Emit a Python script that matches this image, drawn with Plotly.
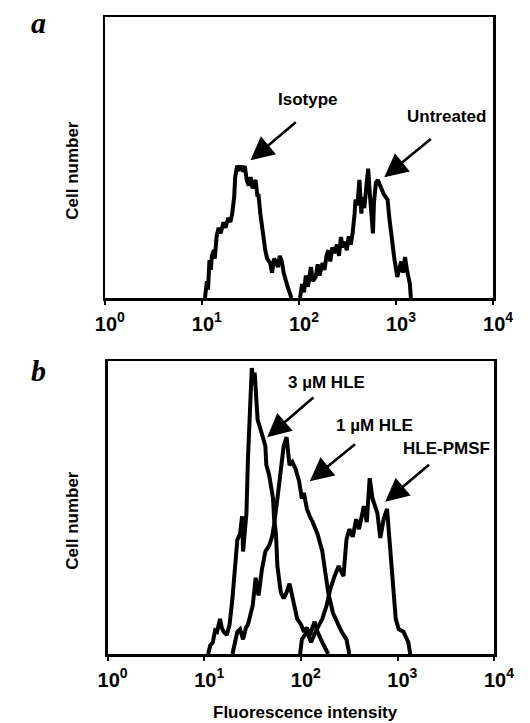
import math
import plotly.graph_objects as go

# ---------------- data (fluorescence intensity, relative cell number %) ----------------
isotype_x = [10.7, 11.2, 11.5, 11.9, 12.3, 12.6, 13.2, 13.5, 14.1, 14.8, 15.5, 16.6, 17.4, 18.6,
             19.5, 20.4, 21.4, 21.9, 22.9, 24.0, 25.1, 26.3, 27.5, 28.8, 30.2, 31.6, 33.1, 35.5,
             37.2, 38.0, 39.8, 41.7, 42.7, 44.7, 46.8, 50.1, 52.5, 55.0, 57.5, 60.3, 63.1, 66.1,
             69.2, 70.8, 75.9, 83.2]
isotype_y = [0, 6, 3, 13.5, 10, 15, 17, 14, 22, 25, 23, 27, 25, 28.5,
             27, 30, 36, 43, 47, 46, 47, 45, 47, 42, 40, 43, 39, 42,
             36, 37, 30, 25, 21, 17, 14, 12.5, 9, 14, 13, 11, 15, 13,
             9, 7.5, 4, 0]

untreated_x = [102, 107, 112, 117, 123, 132, 138, 148, 155, 162, 174, 182, 191, 200, 209, 219,
               229, 245, 257, 269, 282, 295, 309, 324, 339, 355, 372, 380, 398, 417, 437, 447,
               468, 490, 513, 537, 550, 575, 589, 617, 646, 661, 708, 741, 776, 813, 851, 912,
               955, 1023, 1072, 1122, 1175, 1230, 1288, 1349, 1380, 1413]
untreated_y = [0, 5, 2, 8, 4, 11, 6, 7.5, 12, 8, 12.5, 10, 15, 17, 13, 18,
               16, 19, 15, 21.7, 18, 20, 17, 22, 19, 23, 30, 35, 33, 42, 30, 36,
               32, 40, 46, 36, 30, 23, 34, 41, 42, 41, 38, 37, 36, 35, 28, 18,
               14, 7.5, 11, 13, 9, 14.6, 10, 6, 5, 0]

hle3_x = [10.9, 11.5, 12.2, 12.9, 13.5, 14.5, 15.1, 15.8, 17.0, 18.2, 19.5, 20.9, 21.9, 23.4,
          24.5, 25.1, 26.3, 27.2, 28.2, 29.5, 30.2, 30.9, 32.4, 33.1, 35.5, 37.2, 39.4, 42.7,
          43.7, 46.8, 49.0, 51.3, 52.5, 55.0, 56.9, 61.7, 66.1, 70.8, 75.9, 81.3, 91.2, 100,
          107, 115, 123, 138, 148, 166, 191]
hle3_y = [0, 3, 4, 8, 7.6, 12, 9, 7.6, 6.5, 10, 19, 30, 39, 41,
          47, 35, 44, 48, 66.6, 81, 89, 97.6, 92, 96, 80, 78, 75, 71,
          64.5, 61, 56, 53, 46.6, 41, 30, 21, 19, 21, 24, 19, 12, 10,
          7.6, 9, 6.5, 11, 7.6, 4, 0]

hle1_x = [19.5, 20.9, 21.9, 23.4, 25.1, 26.9, 28.2, 31.6, 33.9, 36.3, 39.4, 42.7, 46.8, 50.1,
          52.5, 56.9, 61.7, 66.1, 70.8, 75.9, 81.3, 88.1, 95.5, 102, 107, 115, 123, 132, 148,
          166, 178, 191, 214, 240, 263, 295, 316]
hle1_y = [0, 5, 7.6, 8.5, 5, 9, 10, 16.6, 26, 20, 29, 35, 37, 40,
          44, 53, 64.5, 71, 74, 64.5, 65.5, 63, 59, 53, 55, 49.5, 47, 45, 41,
          35, 28, 21, 14, 10, 7.6, 5, 0]

pmsf_x = [97.7, 102, 115, 127, 141, 166, 184, 200, 219, 245, 275, 295, 316, 343, 372, 398,
          447, 479, 513, 550, 617, 661, 716, 776, 832, 891, 955, 1023, 1148, 1288, 1349]
pmsf_y = [0, 5, 7.6, 4, 7.6, 12, 16.6, 22, 26, 30, 26.6, 39, 42.6, 40, 46, 42.6,
          50.5, 45, 60, 53, 48, 39.6, 46, 49.5, 37, 24, 12, 8.5, 7.6, 4, 0]

tick_vals = [1, 10, 100, 1000, 10000]
tick_exps = ["0", "1", "2", "3", "4"]
tick_text = ["<b>&nbsp;<sup>&nbsp;</sup>10<sup>" + e + "</sup></b>" for e in tick_exps]

# arrow (tip, tail) positions in data units and label texts
a_labels = ["Isotype", "Untreated"]
a_tips = [(31.5, 49), (752, 43)]
a_tails = [(95.5, 63), (2350, 57)]
b_labels = ["3 µM HLE", "1 µM HLE", "HLE-PMSF"]
b_tips = [(44.6, 74), (123, 59), (743, 52)]
b_tails = [(139, 88), (375, 72), (2188, 65)]

W, H = 530, 723
FONT = "Liberation Sans, Arial, sans-serif"
LINE = dict(color="black", width=4)

fig = go.Figure()
fig.add_trace(go.Scatter(x=isotype_x, y=isotype_y, mode="lines", line=LINE, xaxis="x", yaxis="y"))
fig.add_trace(go.Scatter(x=untreated_x, y=untreated_y, mode="lines", line=LINE, xaxis="x", yaxis="y"))
fig.add_trace(go.Scatter(x=hle3_x, y=hle3_y, mode="lines", line=LINE, xaxis="x2", yaxis="y2"))
fig.add_trace(go.Scatter(x=hle1_x, y=hle1_y, mode="lines", line=LINE, xaxis="x2", yaxis="y2"))
fig.add_trace(go.Scatter(x=pmsf_x, y=pmsf_y, mode="lines", line=LINE, xaxis="x2", yaxis="y2"))

xcommon = dict(type="log", range=[0, 4], showgrid=False, zeroline=False, showline=True,
               linecolor="black", linewidth=2.5, mirror=True, ticks="outside", ticklen=4,
               tickwidth=2, tickcolor="black", tickvals=tick_vals, ticktext=tick_text,
               tickfont=dict(family=FONT, size=20, color="black"), ticklabelstandoff=2,
               ticklabeloverflow="allow")
ycommon = dict(range=[0, 100], showgrid=False, zeroline=False, showline=True,
               linecolor="black", linewidth=2.5, mirror=True, showticklabels=False, ticks="")

fig.update_layout(
    width=W, height=H, margin=dict(l=0, r=0, t=0, b=0),
    paper_bgcolor="white", plot_bgcolor="white", showlegend=False,
    xaxis=dict(domain=[92 / W, 512 / W], anchor="y", **xcommon),
    yaxis=dict(domain=[1 - 298 / H, 1 - 17 / H], anchor="x", **ycommon),
    xaxis2=dict(domain=[95 / W, 513 / W], anchor="y2", **xcommon),
    yaxis2=dict(domain=[1 - 654 / H, 1 - 361 / H], anchor="x2", **ycommon),
)

ann = []


def label(text, px, py, size, family=FONT, angle=0):
    return dict(text=text, x=px / W, y=1 - py / H, xref="paper", yref="paper",
                xanchor="center", yanchor="middle", textangle=angle, showarrow=False,
                font=dict(family=family, size=size, color="black"))


# panel letters
ann.append(label("<b><i>a</i></b>", 20, 22, 30, "Liberation Serif, serif"))
ann.append(label("<b><i>b</i></b>", 20, 371, 30, "Liberation Serif, serif"))
# axis titles
for yc in (170, 520):
    ann.append(label("<b>Cell number</b>", 56, yc, 17, angle=-90))
ann.append(label("<b>Fluorescence intensity</b>", 309, 712, 17))

# label texts
label_pos_a = [(311, 100), (461, 117)]
label_pos_b = [(332, 382), (383, 425), (461, 448)]
for t, (px, py) in zip(a_labels, label_pos_a):
    ann.append(label("<b>" + t + "</b>", px, py, 17))
for t, (px, py) in zip(b_labels, label_pos_b):
    ann.append(label("<b>" + t + "</b>", px, py, 17))


def arrow(tip, tail, xr, yr):
    return dict(x=math.log10(tip[0]), y=tip[1], ax=math.log10(tail[0]), ay=tail[1],
                xref=xr, yref=yr, axref=xr, ayref=yr, text="", showarrow=True,
                arrowhead=2, arrowsize=1.8, arrowwidth=2.6, arrowcolor="black")


for tip, tail in zip(a_tips, a_tails):
    ann.append(arrow(tip, tail, "x", "y"))
for tip, tail in zip(b_tips, b_tails):
    ann.append(arrow(tip, tail, "x2", "y2"))

fig.update_layout(annotations=ann)
fig.write_html("out.html",
               config={"displayModeBar": False, "staticPlot": True},
               post_script="document.body.style.margin='0';document.body.style.overflow='hidden';")
